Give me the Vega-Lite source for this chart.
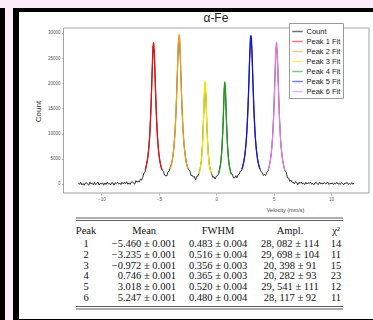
{
  "$schema": "https://vega.github.io/schema/vega-lite/v6.json",
  "background": "#fcecfb",
  "padding": {"left": 0, "top": 4, "right": 0, "bottom": 0},
  "config": {"view": {"stroke": null}, "font": "Liberation Sans", "legend": {"labelColor": "#222222"}},
  "datasets": {
    "count": [
      {"v":-12,"c":208},{"v":-11.9,"c":-72},{"v":-11.8,"c":334},{"v":-11.7,"c":-170},{"v":-11.6,"c":96},{"v":-11.5,"c":-268},{"v":-11.4,"c":166},{"v":-11.3,"c":264},{"v":-11.2,"c":-44},{"v":-11.1,"c":-226},
      {"v":-11,"c":362},{"v":-10.9,"c":-2},{"v":-10.8,"c":138},{"v":-10.7,"c":-156},{"v":-10.6,"c":292},{"v":-10.5,"c":-100},{"v":-10.4,"c":68},{"v":-10.3,"c":390},{"v":-10.2,"c":-198},{"v":-10.1,"c":124},
      {"v":-10,"c":4},{"v":-9.9,"c":256},{"v":-9.8,"c":-234},{"v":-9.7,"c":200},{"v":-9.6,"c":-108},{"v":-9.5,"c":340},{"v":-9.4,"c":-10},{"v":-9.3,"c":102},{"v":-9.2,"c":-192},{"v":-9.1,"c":270},
      {"v":-9,"c":202},{"v":-8.9,"c":-232},{"v":-8.8,"c":244},{"v":-8.7,"c":62},{"v":-8.6,"c":356},{"v":-8.5,"c":-16},{"v":-8.4,"c":180},{"v":-8.3,"c":-114},{"v":-8.2,"c":348},{"v":-8.1,"c":12},
      {"v":-8,"c":318},{"v":-7.9,"c":38},{"v":-7.8,"c":444},{"v":-7.7,"c":-60},{"v":-7.6,"c":206},{"v":-7.5,"c":-78},{"v":-7.4,"c":356},{"v":-7.3,"c":454},{"v":-7.2,"c":146},{"v":-7.1,"c":-36},
      {"v":-7,"c":662},{"v":-6.9,"c":358},{"v":-6.8,"c":578},{"v":-6.7,"c":384},{"v":-6.6,"c":972},{"v":-6.5,"c":760},{"v":-6.4,"c":1328},{"v":-6.3,"c":2170},{"v":-6.2,"c":2332},{"v":-6.1,"c":3550},
      {"v":-6,"c":4680},{"v":-5.9,"c":6500},{"v":-5.8,"c":9417},{"v":-5.7,"c":14126},{"v":-5.6,"c":21019},{"v":-5.5,"c":27333},{"v":-5.4,"c":26450},{"v":-5.3,"c":19515},{"v":-5.2,"c":13007},{"v":-5.1,"c":8716},
      {"v":-5,"c":6068},{"v":-4.9,"c":4404},{"v":-4.8,"c":3416},{"v":-4.7,"c":2747},{"v":-4.6,"c":2519},{"v":-4.5,"c":1746},{"v":-4.4,"c":1658},{"v":-4.3,"c":1622},{"v":-4.2,"c":2419},{"v":-4.1,"c":2528},
      {"v":-4,"c":3351},{"v":-3.9,"c":3985},{"v":-3.8,"c":5124},{"v":-3.7,"c":6990},{"v":-3.6,"c":9896},{"v":-3.5,"c":14452},{"v":-3.4,"c":21078},{"v":-3.3,"c":27925},{"v":-3.2,"c":29161},{"v":-3.1,"c":23315},
      {"v":-3,"c":16231},{"v":-2.9,"c":11057},{"v":-2.8,"c":7728},{"v":-2.7,"c":5603},{"v":-2.6,"c":4208},{"v":-2.5,"c":3358},{"v":-2.4,"c":2816},{"v":-2.3,"c":2651},{"v":-2.2,"c":1699},{"v":-2.1,"c":1743},
      {"v":-2,"c":1386},{"v":-1.9,"c":1465},{"v":-1.8,"c":836},{"v":-1.7,"c":1490},{"v":-1.6,"c":1549},{"v":-1.5,"c":2150},{"v":-1.4,"c":3107},{"v":-1.3,"c":4640},{"v":-1.2,"c":7724},{"v":-1.1,"c":13446},
      {"v":-1,"c":19906},{"v":-0.9,"c":17530},{"v":-0.8,"c":10547},{"v":-0.7,"c":6116},{"v":-0.6,"c":3800},{"v":-0.5,"c":2640},{"v":-0.4,"c":2070},{"v":-0.3,"c":1314},{"v":-0.2,"c":1468},{"v":-0.1,"c":1004},
      {"v":0,"c":1513},{"v":0.1,"c":1587},{"v":0.2,"c":2100},{"v":0.3,"c":3009},{"v":0.4,"c":4415},{"v":0.5,"c":7200},{"v":0.6,"c":12367},{"v":0.7,"c":19071},{"v":0.8,"c":18650},{"v":0.9,"c":11847},
      {"v":1,"c":6906},{"v":1.1,"c":4259},{"v":1.2,"c":2922},{"v":1.3,"c":1990},{"v":1.4,"c":1917},{"v":1.5,"c":1182},{"v":1.6,"c":1189},{"v":1.7,"c":1656},{"v":1.8,"c":1249},{"v":1.9,"c":1800},
      {"v":2,"c":1953},{"v":2.1,"c":2589},{"v":2.2,"c":2617},{"v":2.3,"c":3525},{"v":2.4,"c":4442},{"v":2.5,"c":5945},{"v":2.6,"c":8240},{"v":2.7,"c":11835},{"v":2.8,"c":17346},{"v":2.9,"c":24495},
      {"v":3,"c":29400},{"v":3.1,"c":26868},{"v":3.2,"c":19826},{"v":3.3,"c":13576},{"v":3.4,"c":9351},{"v":3.5,"c":6658},{"v":3.6,"c":4915},{"v":3.7,"c":3748},{"v":3.8,"c":3041},{"v":3.9,"c":2463},
      {"v":4,"c":2303},{"v":4.1,"c":1700},{"v":4.2,"c":1898},{"v":4.3,"c":1687},{"v":4.4,"c":2345},{"v":4.5,"c":2523},{"v":4.6,"c":3401},{"v":4.7,"c":4539},{"v":4.8,"c":6292},{"v":4.9,"c":9099},
      {"v":5,"c":13656},{"v":5.1,"c":20449},{"v":5.2,"c":27079},{"v":5.3,"c":26809},{"v":5.4,"c":19998},{"v":5.5,"c":13319},{"v":5.6,"c":8889},{"v":5.7,"c":6162},{"v":5.8,"c":4457},{"v":5.9,"c":3346},
      {"v":6,"c":2537},{"v":6.1,"c":2259},{"v":6.2,"c":1215},{"v":6.3,"c":1181},{"v":6.4,"c":532},{"v":6.5,"c":780},{"v":6.6,"c":330},{"v":6.7,"c":372},{"v":6.8,"c":28},{"v":6.9,"c":450},
      {"v":7,"c":322},{"v":7.1,"c":-142},{"v":7.2,"c":314},{"v":7.3,"c":122},{"v":7.4,"c":406},{"v":7.5,"c":4},{"v":7.6,"c":190},{"v":7.7,"c":-114},{"v":7.8,"c":338},{"v":7.9,"c":2},
      {"v":8,"c":258},{"v":8.1,"c":96},{"v":8.2,"c":384},{"v":8.3,"c":-40},{"v":8.4,"c":136},{"v":8.5,"c":-150},{"v":8.6,"c":206},{"v":8.7,"c":304},{"v":8.8,"c":-14},{"v":8.9,"c":-90},
      {"v":9,"c":392},{"v":9.1,"c":18},{"v":9.2,"c":158},{"v":9.3,"c":-20},{"v":9.4,"c":312},{"v":9.5,"c":40},{"v":9.6,"c":88},{"v":9.7,"c":410},{"v":9.8,"c":-90},{"v":9.9,"c":144},
      {"v":10,"c":-6},{"v":10.1,"c":246},{"v":10.2,"c":-120},{"v":10.3,"c":190},{"v":10.4,"c":10},{"v":10.5,"c":330},{"v":10.6,"c":-20},{"v":10.7,"c":92},{"v":10.8,"c":-80},{"v":10.9,"c":260},
      {"v":11,"c":152},{"v":11.1,"c":-150},{"v":11.2,"c":194},{"v":11.3,"c":120},{"v":11.4,"c":306},{"v":11.5,"c":-86},{"v":11.6,"c":110},{"v":11.7,"c":-60},{"v":11.8,"c":278},{"v":11.9,"c":-58},
      {"v":12,"c":208}
    ],
    "fits": [
      {"v":-6.185,"c":2808,"s":"Peak 1 Fit"},{"v":-6.064,"c":3873,"s":"Peak 1 Fit"},{"v":-5.943,"c":5616,"s":"Peak 1 Fit"},{"v":-5.846,"c":7888,"s":"Peak 1 Fit"},{"v":-5.774,"c":10440,"s":"Peak 1 Fit"},{"v":-5.702,"c":14041,"s":"Peak 1 Fit"},{"v":-5.641,"c":17972,"s":"Peak 1 Fit"},{"v":-5.581,"c":22466,"s":"Peak 1 Fit"},{"v":-5.532,"c":25763,"s":"Peak 1 Fit"},{"v":-5.496,"c":27464,"s":"Peak 1 Fit"},{"v":-5.46,"c":28082,"s":"Peak 1 Fit"},{"v":-5.424,"c":27464,"s":"Peak 1 Fit"},{"v":-5.388,"c":25763,"s":"Peak 1 Fit"},{"v":-5.339,"c":22466,"s":"Peak 1 Fit"},{"v":-5.279,"c":17972,"s":"Peak 1 Fit"},{"v":-5.219,"c":14041,"s":"Peak 1 Fit"},{"v":-5.146,"c":10440,"s":"Peak 1 Fit"},{"v":-5.074,"c":7888,"s":"Peak 1 Fit"},{"v":-4.977,"c":5616,"s":"Peak 1 Fit"},{"v":-4.856,"c":3873,"s":"Peak 1 Fit"},{"v":-4.736,"c":2808,"s":"Peak 1 Fit"},
      {"v":-4.009,"c":2970,"s":"Peak 2 Fit"},{"v":-3.88,"c":4096,"s":"Peak 2 Fit"},{"v":-3.751,"c":5940,"s":"Peak 2 Fit"},{"v":-3.648,"c":8342,"s":"Peak 2 Fit"},{"v":-3.57,"c":11040,"s":"Peak 2 Fit"},{"v":-3.493,"c":14849,"s":"Peak 2 Fit"},{"v":-3.429,"c":19007,"s":"Peak 2 Fit"},{"v":-3.364,"c":23758,"s":"Peak 2 Fit"},{"v":-3.312,"c":27246,"s":"Peak 2 Fit"},{"v":-3.274,"c":29045,"s":"Peak 2 Fit"},{"v":-3.235,"c":29698,"s":"Peak 2 Fit"},{"v":-3.196,"c":29045,"s":"Peak 2 Fit"},{"v":-3.158,"c":27246,"s":"Peak 2 Fit"},{"v":-3.106,"c":23758,"s":"Peak 2 Fit"},{"v":-3.042,"c":19007,"s":"Peak 2 Fit"},{"v":-2.977,"c":14849,"s":"Peak 2 Fit"},{"v":-2.9,"c":11040,"s":"Peak 2 Fit"},{"v":-2.822,"c":8342,"s":"Peak 2 Fit"},{"v":-2.719,"c":5940,"s":"Peak 2 Fit"},{"v":-2.59,"c":4096,"s":"Peak 2 Fit"},{"v":-2.461,"c":2970,"s":"Peak 2 Fit"},
      {"v":-1.506,"c":2040,"s":"Peak 3 Fit"},{"v":-1.417,"c":2814,"s":"Peak 3 Fit"},{"v":-1.328,"c":4080,"s":"Peak 3 Fit"},{"v":-1.257,"c":5730,"s":"Peak 3 Fit"},{"v":-1.203,"c":7583,"s":"Peak 3 Fit"},{"v":-1.15,"c":10199,"s":"Peak 3 Fit"},{"v":-1.106,"c":13055,"s":"Peak 3 Fit"},{"v":-1.061,"c":16318,"s":"Peak 3 Fit"},{"v":-1.025,"c":18714,"s":"Peak 3 Fit"},{"v":-0.999,"c":19949,"s":"Peak 3 Fit"},{"v":-0.972,"c":20398,"s":"Peak 3 Fit"},{"v":-0.945,"c":19949,"s":"Peak 3 Fit"},{"v":-0.919,"c":18714,"s":"Peak 3 Fit"},{"v":-0.883,"c":16318,"s":"Peak 3 Fit"},{"v":-0.839,"c":13055,"s":"Peak 3 Fit"},{"v":-0.794,"c":10199,"s":"Peak 3 Fit"},{"v":-0.741,"c":7583,"s":"Peak 3 Fit"},{"v":-0.687,"c":5730,"s":"Peak 3 Fit"},{"v":-0.616,"c":4080,"s":"Peak 3 Fit"},{"v":-0.527,"c":2814,"s":"Peak 3 Fit"},{"v":-0.438,"c":2040,"s":"Peak 3 Fit"},
      {"v":0.199,"c":2028,"s":"Peak 4 Fit"},{"v":0.29,"c":2798,"s":"Peak 4 Fit"},{"v":0.381,"c":4056,"s":"Peak 4 Fit"},{"v":0.454,"c":5697,"s":"Peak 4 Fit"},{"v":0.509,"c":7540,"s":"Peak 4 Fit"},{"v":0.564,"c":10141,"s":"Peak 4 Fit"},{"v":0.609,"c":12980,"s":"Peak 4 Fit"},{"v":0.655,"c":16226,"s":"Peak 4 Fit"},{"v":0.691,"c":18607,"s":"Peak 4 Fit"},{"v":0.719,"c":19836,"s":"Peak 4 Fit"},{"v":0.746,"c":20282,"s":"Peak 4 Fit"},{"v":0.773,"c":19836,"s":"Peak 4 Fit"},{"v":0.801,"c":18607,"s":"Peak 4 Fit"},{"v":0.837,"c":16226,"s":"Peak 4 Fit"},{"v":0.883,"c":12980,"s":"Peak 4 Fit"},{"v":0.929,"c":10141,"s":"Peak 4 Fit"},{"v":0.983,"c":7540,"s":"Peak 4 Fit"},{"v":1.038,"c":5697,"s":"Peak 4 Fit"},{"v":1.111,"c":4056,"s":"Peak 4 Fit"},{"v":1.202,"c":2798,"s":"Peak 4 Fit"},{"v":1.294,"c":2028,"s":"Peak 4 Fit"},
      {"v":2.238,"c":2954,"s":"Peak 5 Fit"},{"v":2.368,"c":4075,"s":"Peak 5 Fit"},{"v":2.498,"c":5908,"s":"Peak 5 Fit"},{"v":2.602,"c":8298,"s":"Peak 5 Fit"},{"v":2.68,"c":10982,"s":"Peak 5 Fit"},{"v":2.758,"c":14771,"s":"Peak 5 Fit"},{"v":2.823,"c":18906,"s":"Peak 5 Fit"},{"v":2.888,"c":23633,"s":"Peak 5 Fit"},{"v":2.94,"c":27102,"s":"Peak 5 Fit"},{"v":2.979,"c":28891,"s":"Peak 5 Fit"},{"v":3.018,"c":29541,"s":"Peak 5 Fit"},{"v":3.057,"c":28891,"s":"Peak 5 Fit"},{"v":3.096,"c":27102,"s":"Peak 5 Fit"},{"v":3.148,"c":23633,"s":"Peak 5 Fit"},{"v":3.213,"c":18906,"s":"Peak 5 Fit"},{"v":3.278,"c":14771,"s":"Peak 5 Fit"},{"v":3.356,"c":10982,"s":"Peak 5 Fit"},{"v":3.434,"c":8298,"s":"Peak 5 Fit"},{"v":3.538,"c":5908,"s":"Peak 5 Fit"},{"v":3.668,"c":4075,"s":"Peak 5 Fit"},{"v":3.798,"c":2954,"s":"Peak 5 Fit"},
      {"v":4.527,"c":2812,"s":"Peak 6 Fit"},{"v":4.647,"c":3878,"s":"Peak 6 Fit"},{"v":4.767,"c":5623,"s":"Peak 6 Fit"},{"v":4.863,"c":7898,"s":"Peak 6 Fit"},{"v":4.935,"c":10452,"s":"Peak 6 Fit"},{"v":5.007,"c":14059,"s":"Peak 6 Fit"},{"v":5.067,"c":17995,"s":"Peak 6 Fit"},{"v":5.127,"c":22494,"s":"Peak 6 Fit"},{"v":5.175,"c":25795,"s":"Peak 6 Fit"},{"v":5.211,"c":27498,"s":"Peak 6 Fit"},{"v":5.247,"c":28117,"s":"Peak 6 Fit"},{"v":5.283,"c":27498,"s":"Peak 6 Fit"},{"v":5.319,"c":25795,"s":"Peak 6 Fit"},{"v":5.367,"c":22494,"s":"Peak 6 Fit"},{"v":5.427,"c":17995,"s":"Peak 6 Fit"},{"v":5.487,"c":14059,"s":"Peak 6 Fit"},{"v":5.559,"c":10452,"s":"Peak 6 Fit"},{"v":5.631,"c":7898,"s":"Peak 6 Fit"},{"v":5.727,"c":5623,"s":"Peak 6 Fit"},{"v":5.847,"c":3878,"s":"Peak 6 Fit"},{"v":5.967,"c":2812,"s":"Peak 6 Fit"}
    ],
    "table": [
      {"Peak":1,"Mean":"−5.460 ± 0.001","FWHM":"0.483 ± 0.004","Ampl":"28, 082 ± 114","chi":"14"},
      {"Peak":2,"Mean":"−3.235 ± 0.001","FWHM":"0.516 ± 0.004","Ampl":"29, 698 ± 104","chi":"11"},
      {"Peak":3,"Mean":"−0.972 ± 0.001","FWHM":"0.356 ± 0.003","Ampl":"20, 398 ± 91","chi":"15"},
      {"Peak":4,"Mean":"0.746 ± 0.001","FWHM":"0.365 ± 0.003","Ampl":"20, 282 ± 93","chi":"23"},
      {"Peak":5,"Mean":"3.018 ± 0.001","FWHM":"0.520 ± 0.004","Ampl":"29, 541 ± 111","chi":"12"},
      {"Peak":6,"Mean":"5.247 ± 0.001","FWHM":"0.480 ± 0.004","Ampl":"28, 117 ± 92","chi":"11"}
    ]
  },
  "spacing": 0,
  "bounds": "flush",
  "hconcat": [
    {"width": 5, "height": 316, "data": {"values": [{}]}, "mark": {"type": "text", "text": ""}, "encoding": {}, "view": {"fill": "#000000"}},
    {"width": 8, "height": 316, "data": {"values": [{}]}, "mark": {"type": "text", "text": ""}, "encoding": {}},
    {"width": 6, "height": 316, "data": {"values": [{}]}, "mark": {"type": "text", "text": ""}, "encoding": {}, "view": {"fill": "#000000"}},
    {
      "spacing": 0,
      "bounds": "flush",
      "vconcat": [
        {"width": 354, "height": 4, "data": {"values": [{}]}, "mark": {"type": "text", "text": ""}, "encoding": {}, "view": {"fill": "#000000"}},
        {
          "width": 354,
          "height": 307,
          "view": {"fill": "#ffffff"},
          "resolve": {"scale": {"x": "independent", "y": "independent"}},
          "layer": [
            {
              "layer": [
                {
                  "data": {"name": "count"},
                  "mark": {"type": "line", "strokeWidth": 0.8},
                  "encoding": {
                    "x": {"field": "v", "type": "quantitative",
                      "scale": {"domain": [-13.3, 13.3], "range": [44.5, 350], "nice": false, "zero": false},
                      "axis": {"offset": -126, "domain": false, "grid": false, "values": [-10, -5, 0, 5, 10], "format": "d", "labelFontSize": 4.5, "labelColor": "#555555", "labelPadding": 1, "tickSize": 2, "tickWidth": 0.6, "tickColor": "#888888", "labelFlush": false,
                        "title": "Velocity (mm/s)", "titleFontSize": 5.5, "titleFontWeight": "normal", "titleColor": "#444444", "titleX": 266, "titleY": 16, "titleBaseline": "middle", "titleAlign": "center"}},
                    "y": {"field": "c", "type": "quantitative",
                      "scale": {"domain": [-1790, 30990], "range": [181, 16], "nice": false, "zero": false},
                      "axis": {"offset": -44.5, "domain": false, "grid": false, "values": [0, 5000, 10000, 15000, 20000, 25000, 30000], "format": "d", "labelFontSize": 4.5, "labelColor": "#555555", "labelPadding": 1.5, "tickSize": 2, "tickWidth": 0.6, "tickColor": "#888888", "labelFlush": false,
                        "title": "Count", "titleFontSize": 8, "titleFontWeight": "normal", "titleColor": "#333333", "titleX": -25.5, "titleY": 99, "titleAngle": -90, "titleBaseline": "middle", "titleAlign": "center"}},
                    "color": {"datum": "Count", "type": "nominal",
                      "scale": {"domain": ["Count", "Peak 1 Fit", "Peak 2 Fit", "Peak 3 Fit", "Peak 4 Fit", "Peak 5 Fit", "Peak 6 Fit"], "range": ["#000000", "#e41010", "#eda020", "#f2e600", "#1f9a1f", "#1414d8", "#e27ae2"]},
                      "legend": {"orient": "none", "legendX": 289, "legendY": 15, "title": null, "symbolType": "stroke", "symbolSize": 110, "symbolStrokeWidth": 1.5, "symbolOpacity": 0.55, "labelFontSize": 7.5, "labelColor": "#222222", "labelOffset": 3, "padding": 2.5, "strokeColor": "#9a9a9a", "fillColor": "#ffffff", "rowPadding": 0}}
                  }
                },
                {
                  "data": {"name": "fits"},
                  "mark": {"type": "line", "interpolate": "monotone", "strokeWidth": 1.3},
                  "encoding": {
                    "x": {"field": "v", "type": "quantitative"},
                    "y": {"field": "c", "type": "quantitative"},
                    "color": {"field": "s", "type": "nominal",
                      "legend": {"orient": "none", "legendX": 289, "legendY": 15, "title": null, "symbolType": "stroke", "symbolSize": 110, "symbolStrokeWidth": 1.5, "symbolOpacity": 0.55, "labelFontSize": 7.5, "labelColor": "#222222", "labelOffset": 3, "padding": 2.5, "strokeColor": "#9a9a9a", "fillColor": "#ffffff", "rowPadding": 0}}
                  }
                },
                {
                  "data": {"values": [{}]},
                  "mark": {"type": "rect", "fillOpacity": 0, "stroke": "#8c8c8c", "strokeWidth": 0.8},
                  "encoding": {
                    "x": {"datum": -13.3, "type": "quantitative"},
                    "x2": {"datum": 13.3},
                    "y": {"datum": -1790, "type": "quantitative"},
                    "y2": {"datum": 30990}
                  }
                }
              ]
            },
            {
              "data": {"name": "table"},
              "layer": [
                {"mark": {"type": "text", "font": "Liberation Serif", "fontSize": 10.5, "color": "#111111", "baseline": "middle"},
                 "encoding": {"x": {"datum": 3.75, "type": "quantitative", "scale": {"domain": [0, 100], "range": [57, 324], "nice": false, "zero": false}, "axis": null},
                   "y": {"field": "Peak", "type": "quantitative", "scale": {"domain": [1, 6], "range": [232, 286], "nice": false, "zero": false}, "axis": null},
                   "text": {"field": "Peak", "type": "nominal"}}},
                {"mark": {"type": "text", "font": "Liberation Serif", "fontSize": 10.5, "color": "#111111", "baseline": "middle", "align": "right"},
                 "encoding": {"x": {"datum": 37.45, "type": "quantitative", "axis": null}, "y": {"field": "Peak", "type": "quantitative", "axis": null}, "text": {"field": "Mean", "type": "nominal"}}},
                {"mark": {"type": "text", "font": "Liberation Serif", "fontSize": 10.5, "color": "#111111", "baseline": "middle"},
                 "encoding": {"x": {"datum": 53.2, "type": "quantitative", "axis": null}, "y": {"field": "Peak", "type": "quantitative", "axis": null}, "text": {"field": "FWHM", "type": "nominal"}}},
                {"mark": {"type": "text", "font": "Liberation Serif", "fontSize": 10.5, "color": "#111111", "baseline": "middle"},
                 "encoding": {"x": {"datum": 80.15, "type": "quantitative", "axis": null}, "y": {"field": "Peak", "type": "quantitative", "axis": null}, "text": {"field": "Ampl", "type": "nominal"}}},
                {"mark": {"type": "text", "font": "Liberation Serif", "fontSize": 10.5, "color": "#111111", "baseline": "middle"},
                 "encoding": {"x": {"datum": 97.4, "type": "quantitative", "axis": null}, "y": {"field": "Peak", "type": "quantitative", "axis": null}, "text": {"field": "chi", "type": "nominal"}}},
                {"data": {"values": [{}]}, "mark": {"type": "text", "text": "α-Fe", "font": "Liberation Sans", "fontSize": 12, "color": "#222222", "baseline": "middle"},
                 "encoding": {"x": {"datum": 52.4, "type": "quantitative", "axis": null}, "y": {"datum": -19.93, "type": "quantitative", "axis": null}}},
                {"data": {"values": [{}]}, "mark": {"type": "text", "text": "Peak", "font": "Liberation Serif", "fontSize": 10.5, "color": "#111111", "baseline": "middle"},
                 "encoding": {"x": {"datum": 3.75, "type": "quantitative", "axis": null}, "y": {"datum": -0.2, "type": "quantitative", "axis": null}}},
                {"data": {"values": [{}]}, "mark": {"type": "text", "text": "Mean", "font": "Liberation Serif", "fontSize": 10.5, "color": "#111111", "baseline": "middle"},
                 "encoding": {"x": {"datum": 25.5, "type": "quantitative", "axis": null}, "y": {"datum": -0.2, "type": "quantitative", "axis": null}}},
                {"data": {"values": [{}]}, "mark": {"type": "text", "text": "FWHM", "font": "Liberation Serif", "fontSize": 10.5, "color": "#111111", "baseline": "middle"},
                 "encoding": {"x": {"datum": 53.2, "type": "quantitative", "axis": null}, "y": {"datum": -0.2, "type": "quantitative", "axis": null}}},
                {"data": {"values": [{}]}, "mark": {"type": "text", "text": "Ampl.", "font": "Liberation Serif", "fontSize": 10.5, "color": "#111111", "baseline": "middle"},
                 "encoding": {"x": {"datum": 80.15, "type": "quantitative", "axis": null}, "y": {"datum": -0.2, "type": "quantitative", "axis": null}}},
                {"data": {"values": [{}]}, "mark": {"type": "text", "text": "χ²", "font": "Liberation Serif", "fontSize": 10.5, "color": "#111111", "baseline": "middle"},
                 "encoding": {"x": {"datum": 97.4, "type": "quantitative", "axis": null}, "y": {"datum": -0.2, "type": "quantitative", "axis": null}}},
                {"data": {"values": [{}]}, "mark": {"type": "rule", "color": "#333333", "strokeWidth": 0.8},
                 "encoding": {"x": {"datum": 0, "type": "quantitative", "axis": null}, "x2": {"datum": 100}, "y": {"datum": -1.407, "type": "quantitative", "axis": null}}},
                {"data": {"values": [{}]}, "mark": {"type": "rule", "color": "#333333", "strokeWidth": 0.8},
                 "encoding": {"x": {"datum": 0, "type": "quantitative", "axis": null}, "x2": {"datum": 100}, "y": {"datum": -1.176, "type": "quantitative", "axis": null}}},
                {"data": {"values": [{}]}, "mark": {"type": "rule", "color": "#333333", "strokeWidth": 0.8},
                 "encoding": {"x": {"datum": 0, "type": "quantitative", "axis": null}, "x2": {"datum": 100}, "y": {"datum": 6.787, "type": "quantitative", "axis": null}}},
                {"data": {"values": [{}]}, "mark": {"type": "rule", "color": "#333333", "strokeWidth": 0.8},
                 "encoding": {"x": {"datum": 0, "type": "quantitative", "axis": null}, "x2": {"datum": 100}, "y": {"datum": 7.019, "type": "quantitative", "axis": null}}}
              ]
            }
          ]
        },
        {"width": 354, "height": 5, "data": {"values": [{}]}, "mark": {"type": "text", "text": ""}, "encoding": {}, "view": {"fill": "#000000"}}
      ]
    }
  ]
}
